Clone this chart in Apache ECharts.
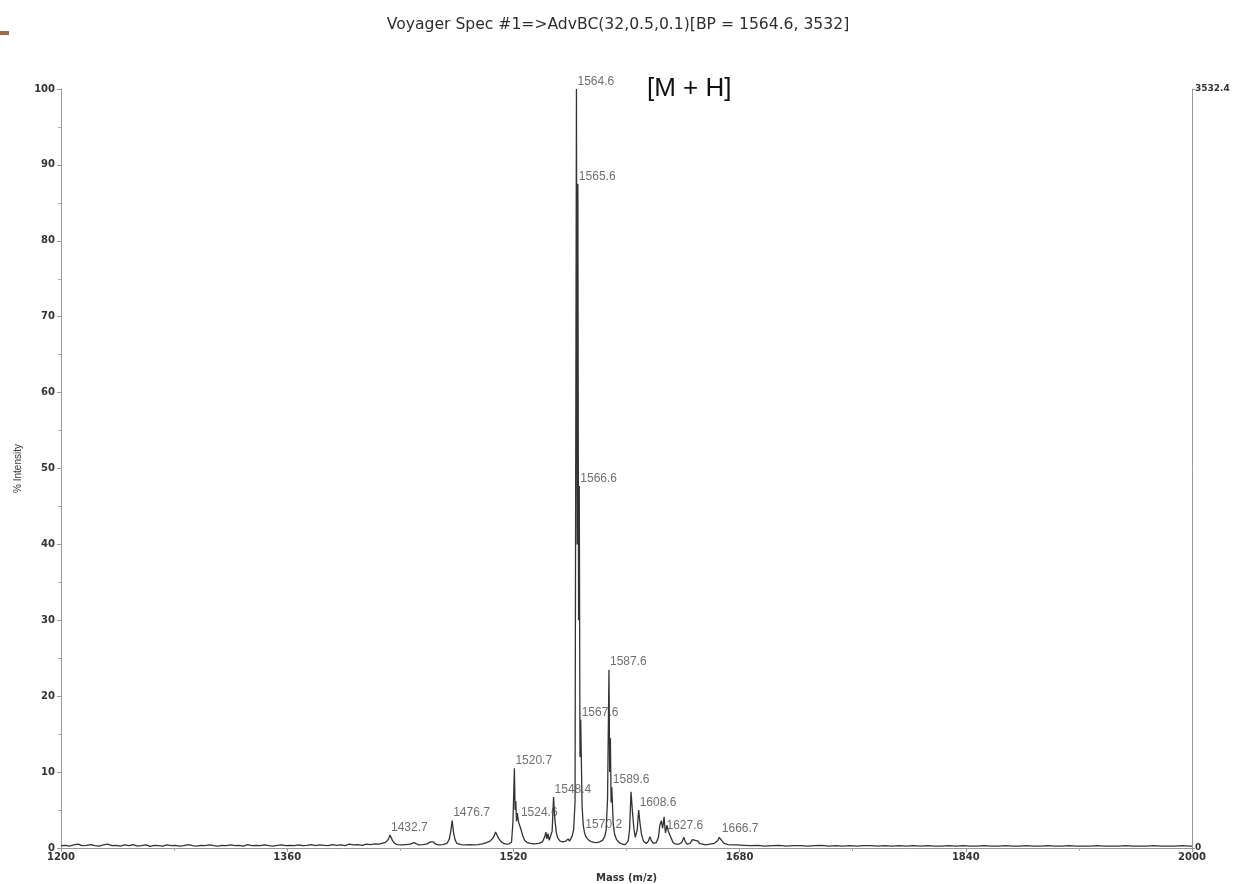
<!DOCTYPE html>
<html>
<head>
<meta charset="utf-8">
<title>Voyager Spec #1</title>
<script src="https://cdn.jsdelivr.net/npm/echarts@6/dist/echarts.min.js"></script>
<style>
  html, body { margin: 0; padding: 0; background: #ffffff; }
  #chart { width: 1236px; height: 884px; }
</style>
</head>
<body>
<div id="chart"></div>
<script>
// Mass spectrum: [m/z, % intensity] pairs, low-mass baseline
const baselineLeft = [
  [1200, 0.3], [1203, 0.35], [1206, 0.25], [1209, 0.4], [1212, 0.5], [1215, 0.3],
  [1218, 0.35], [1221, 0.45], [1224, 0.3], [1227, 0.25], [1230, 0.4], [1233, 0.5],
  [1236, 0.3], [1239, 0.35], [1242, 0.25], [1245, 0.4], [1248, 0.3], [1251, 0.45],
  [1254, 0.25], [1257, 0.3], [1260, 0.4], [1263, 0.2], [1266, 0.35], [1269, 0.3],
  [1272, 0.25], [1275, 0.4], [1278, 0.3], [1281, 0.35], [1284, 0.25], [1287, 0.3],
  [1290, 0.45], [1293, 0.3], [1296, 0.25], [1299, 0.35], [1302, 0.3], [1305, 0.4],
  [1308, 0.3], [1311, 0.25], [1314, 0.35], [1317, 0.3], [1320, 0.4], [1323, 0.3],
  [1326, 0.35], [1329, 0.25], [1332, 0.45], [1335, 0.3], [1338, 0.35], [1341, 0.3],
  [1344, 0.4], [1347, 0.3], [1350, 0.25], [1353, 0.35], [1356, 0.4], [1359, 0.3],
  [1362, 0.35], [1365, 0.3], [1368, 0.4], [1371, 0.3], [1374, 0.35], [1377, 0.45],
  [1380, 0.3], [1383, 0.4], [1386, 0.35], [1389, 0.3], [1392, 0.45], [1395, 0.35],
  [1398, 0.4], [1401, 0.3], [1404, 0.5], [1407, 0.4], [1410, 0.45], [1413, 0.35],
  [1416, 0.5], [1419, 0.45], [1422, 0.55], [1425, 0.5], [1427, 0.6], [1429, 0.7]
];

// Peak-rich region around the [M + H] cluster
const peakRegion = [
  [1430.5, 0.9], [1431.7, 1.2], [1432.7, 1.7], [1433.7, 1.3], [1434.7, 0.9], [1436, 0.6],
  [1438, 0.45], [1441, 0.4], [1444, 0.45], [1447, 0.5], [1449.7, 0.7], [1451, 0.45],
  [1453, 0.4], [1456, 0.45], [1459, 0.55], [1461.4, 0.8], [1462.4, 1.0], [1463.4, 0.8],
  [1465, 0.5], [1467, 0.4], [1470, 0.45], [1473, 0.6], [1474.7, 1.2], [1475.7, 2.2],
  [1476.7, 3.6], [1477.7, 2.0], [1478.7, 1.1], [1480, 0.6], [1483, 0.45], [1486, 0.4],
  [1489, 0.45], [1492, 0.4], [1495, 0.45], [1498, 0.55], [1501, 0.7], [1503.5, 0.9],
  [1505.4, 1.3], [1506.4, 1.6], [1507.4, 2.1], [1508.4, 1.7], [1509.4, 1.3], [1511, 0.9],
  [1513, 0.6], [1515, 0.5], [1517, 0.55], [1518.7, 0.8], [1519.7, 3.5], [1520.7, 10.5],
  [1521.2, 5.0], [1521.7, 6.2], [1522.2, 3.5], [1522.7, 4.6], [1523.7, 3.4], [1524.6, 3.6],
  [1525.6, 2.3], [1526.6, 1.6], [1528, 1.0], [1530, 0.7], [1532, 0.6], [1535, 0.55],
  [1538, 0.6], [1540.5, 0.8], [1542.2, 1.5], [1543, 2.1], [1543.7, 1.2], [1544.5, 1.9],
  [1545.3, 1.0], [1546.5, 1.0], [1547.4, 2.2], [1548.4, 6.7], [1549.4, 3.6], [1550.4, 2.0],
  [1551.4, 1.3], [1553, 0.9], [1555, 0.8], [1557, 0.9], [1558.7, 1.2], [1559.7, 0.9],
  [1560.6, 1.2], [1561.6, 1.6], [1562.6, 2.4], [1563.6, 6.0], [1564.6, 100], [1565.1, 40],
  [1565.6, 87.5], [1566.1, 30], [1566.6, 47.7], [1567.1, 12], [1567.6, 16.9], [1568.6, 5.5],
  [1569.4, 3.0], [1570.2, 2.1], [1571, 1.6], [1572, 1.3], [1573.5, 1.0], [1575, 0.85],
  [1577, 0.75], [1579, 0.7], [1581, 0.8], [1583, 1.0], [1584.6, 1.5], [1585.6, 2.4],
  [1586.6, 6.5], [1587.6, 23.5], [1588.1, 10], [1588.6, 14.5], [1589.1, 6], [1589.6, 8.0],
  [1590.6, 3.2], [1591.6, 1.8], [1593, 1.1], [1595, 0.7], [1597, 0.5], [1599, 0.45],
  [1601.2, 0.9], [1602.2, 2.5], [1603.2, 7.4], [1604.2, 4.8], [1605.2, 2.6], [1606.2, 1.4],
  [1607.6, 2.4], [1608.6, 5.0], [1609.6, 3.2], [1610.6, 1.8], [1612, 0.9], [1614, 0.6],
  [1615.5, 0.9], [1616.5, 1.5], [1617.5, 1.0], [1619, 0.6], [1621, 0.7], [1622.6, 1.4],
  [1623.6, 3.0], [1624.6, 3.6], [1625.6, 2.6], [1626.6, 4.1], [1627.1, 2.8], [1627.6, 2.0],
  [1628.6, 3.0], [1629.6, 2.2], [1630.6, 2.4], [1631.6, 1.3], [1633, 0.7], [1635, 0.5],
  [1637, 0.5], [1639, 0.7], [1640.6, 1.4], [1641.6, 0.8], [1643, 0.5], [1645, 0.6],
  [1646.6, 1.1], [1647.6, 0.9], [1648.6, 1.0], [1649.6, 0.8], [1650.6, 0.9], [1651.6, 0.6],
  [1653, 0.45], [1656, 0.4], [1659, 0.5], [1662, 0.6], [1664.6, 1.0], [1665.6, 1.4],
  [1666.7, 1.6], [1667.7, 0.9], [1669, 0.6], [1672, 0.45], [1675, 0.4], [1678, 0.4]
];

// High-mass baseline
const baselineRight = [
  [1683, 0.35], [1688, 0.3], [1693, 0.35], [1698, 0.25], [1703, 0.3], [1708, 0.35],
  [1713, 0.25], [1718, 0.3], [1723, 0.3], [1728, 0.25], [1733, 0.3], [1738, 0.35],
  [1743, 0.25], [1748, 0.3], [1753, 0.25], [1758, 0.3], [1763, 0.25], [1768, 0.3],
  [1773, 0.3], [1778, 0.25], [1783, 0.3], [1788, 0.25], [1793, 0.3], [1798, 0.25],
  [1803, 0.3], [1808, 0.25], [1813, 0.3], [1818, 0.25], [1823, 0.25], [1828, 0.3],
  [1833, 0.25], [1838, 0.3], [1843, 0.25], [1848, 0.25], [1853, 0.3], [1858, 0.25],
  [1863, 0.25], [1868, 0.3], [1873, 0.25], [1878, 0.25], [1883, 0.3], [1888, 0.25],
  [1893, 0.25], [1898, 0.3], [1903, 0.25], [1908, 0.25], [1913, 0.3], [1918, 0.25],
  [1923, 0.25], [1928, 0.25], [1933, 0.3], [1938, 0.25], [1943, 0.25], [1948, 0.25],
  [1953, 0.3], [1958, 0.25], [1963, 0.25], [1968, 0.25], [1973, 0.3], [1978, 0.25],
  [1983, 0.25], [1988, 0.25], [1993, 0.3], [1998, 0.25], [2000, 0.25]
];

// Peaks annotated with their m/z
const labelledMz = [
  1432.7, 1476.7, 1520.7, 1524.6, 1548.4, 1564.6, 1565.6, 1566.6, 1567.6,
  1570.2, 1587.6, 1589.6, 1608.6, 1627.6, 1666.7
];

// Axis ticks
const massTicks = [1200, 1360, 1520, 1680, 1840, 2000];
const intensityTicks = [0, 10, 20, 30, 40, 50, 60, 70, 80, 90, 100];
const basePeakCounts = 3532.4;

const titleText = 'Voyager Spec #1=>AdvBC(32,0.5,0.1)[BP = 1564.6, 3532]';

const spectrum = baselineLeft.concat(peakRegion, baselineRight);
const peakPoints = labelledMz.map(function (mz) {
  const hit = spectrum.find(function (p) { return p[0] === mz; });
  return [mz, hit[1]];
});

const axisFont = 'DejaVu Sans';
const textFont = 'Liberation Sans';
const plainNumber = function (v) { return String(v); };

const chart = echarts.init(document.getElementById('chart'), null, { renderer: 'canvas' });
chart.setOption({
  animation: false,
  backgroundColor: '#ffffff',
  title: {
    text: titleText,
    left: 'center',
    top: 12,
    textStyle: { fontFamily: axisFont, fontSize: 15.6, fontWeight: 'normal', color: '#2e2e2e' }
  },
  graphic: [
    { type: 'rect', left: 0, top: 31, shape: { width: 9, height: 4 }, style: { fill: '#9c6c4c' } },
    { type: 'text', left: 647, top: 76,
      style: { text: '[M + H]', fontFamily: textFont, fontSize: 26, fill: '#111111' } }
  ],
  grid: { left: 61, right: 44, top: 89, bottom: 36, containLabel: false, outerBoundsMode: 'none' },
  xAxis: {
    type: 'value',
    min: massTicks[0],
    max: massTicks[massTicks.length - 1],
    interval: massTicks[1] - massTicks[0],
    name: 'Mass (m/z)',
    nameLocation: 'middle',
    nameGap: 25,
    nameTextStyle: { fontFamily: axisFont, fontSize: 10, fontWeight: 'bold', color: '#333333' },
    axisLine: { lineStyle: { color: '#999999', width: 1 } },
    axisTick: { length: 4, lineStyle: { color: '#999999' } },
    minorTick: { show: true, splitNumber: 2, length: 3, lineStyle: { color: '#aaaaaa' } },
    splitLine: { show: false },
    axisLabel: { margin: 4, fontFamily: axisFont, fontSize: 10, fontWeight: 'bold', color: '#333333', formatter: plainNumber }
  },
  yAxis: [
    {
      type: 'value',
      min: intensityTicks[0],
      max: intensityTicks[intensityTicks.length - 1],
      interval: intensityTicks[1] - intensityTicks[0],
      name: '% Intensity',
      nameLocation: 'middle',
      nameRotate: 90,
      nameGap: 33,
      nameTextStyle: { fontFamily: textFont, fontSize: 10, color: '#333333' },
      axisLine: { show: true, lineStyle: { color: '#999999', width: 1 } },
      axisTick: { show: true, length: 4, lineStyle: { color: '#999999' } },
      minorTick: { show: true, splitNumber: 2, length: 3, lineStyle: { color: '#aaaaaa' } },
      splitLine: { show: false },
      axisLabel: { margin: 6, fontFamily: axisFont, fontSize: 10, fontWeight: 'bold', color: '#333333', formatter: plainNumber }
    },
    {
      type: 'value',
      position: 'right',
      min: 0,
      max: basePeakCounts,
      interval: basePeakCounts,
      axisLine: { show: true, lineStyle: { color: '#999999', width: 1 } },
      axisTick: { show: true, length: 3, lineStyle: { color: '#999999' } },
      splitLine: { show: false },
      axisLabel: {
        margin: 3,
        padding: [0, 0, 6, 0],
        fontFamily: axisFont, fontSize: 9, fontWeight: 'bold', color: '#333333',
        formatter: function (v) { return v === 0 ? '0' : v.toFixed(1); }
      }
    }
  ],
  series: [
    {
      type: 'line',
      data: spectrum,
      yAxisIndex: 0,
      symbol: 'none',
      sampling: null,
      lineStyle: { color: '#333333', width: 1.3 },
      z: 2
    },
    {
      type: 'scatter',
      data: peakPoints,
      yAxisIndex: 0,
      symbolSize: 1,
      itemStyle: { color: 'rgba(0,0,0,0)' },
      label: {
        show: true,
        position: [1.5, -7],
        align: 'left',
        verticalAlign: 'middle',
        fontFamily: textFont,
        fontSize: 12,
        color: '#4a4a4a',
        formatter: function (p) { return p.value[0].toFixed(1); }
      },
      z: 3
    }
  ]
});
</script>
</body>
</html>
